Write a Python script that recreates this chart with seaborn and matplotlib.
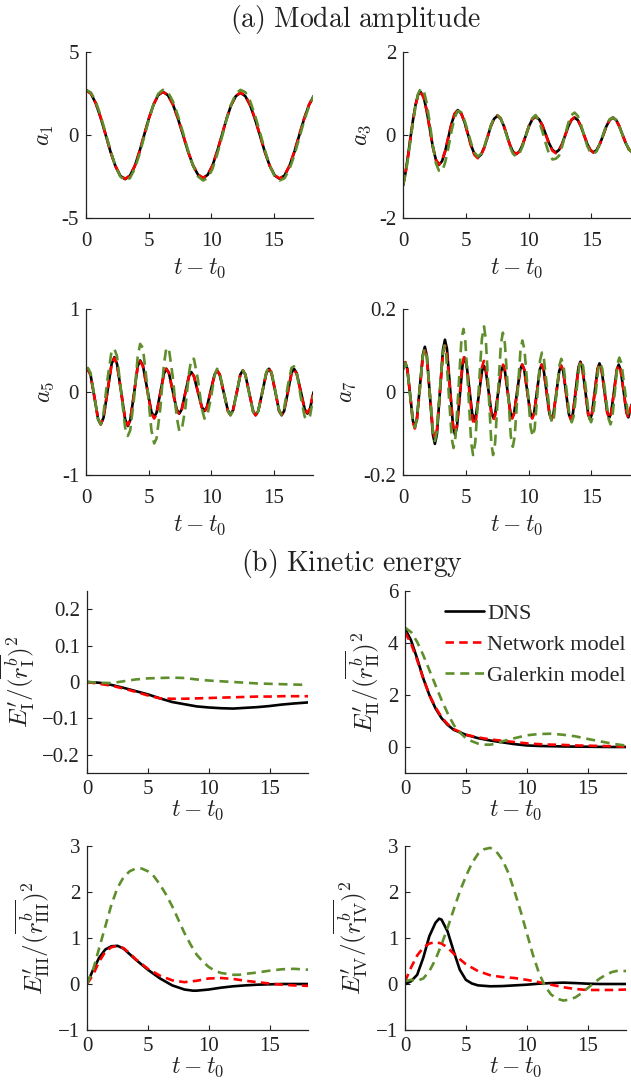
import matplotlib
matplotlib.use("Agg")
import matplotlib.pyplot as plt
import seaborn as sns
from matplotlib.lines import Line2D

sns.set_theme(style="ticks")
plt.rcParams["font.family"] = ["Liberation Serif", "DejaVu Serif"]
plt.rcParams["mathtext.fontset"] = "cm"

# ---------------- data: modal amplitudes ----------------
t_a1 = [0, 0.39, 0.78, 1.17, 1.57, 1.96, 2.35, 2.74, 3.13, 3.51, 3.89, 4.26, 4.64, 5.02, 5.4,
        5.77, 6.15, 6.55, 6.95, 7.35, 7.76, 8.16, 8.56, 8.96, 9.36, 9.73, 10.11, 10.48, 10.86,
        11.23, 11.6, 11.98, 12.35, 12.74, 13.13, 13.52, 13.92, 14.31, 14.7, 15.09, 15.48, 15.87,
        16.26, 16.65, 17.04, 17.43, 17.82, 18.2]
dns_a1 = [2.7, 2.5, 1.91, 1.05, 0.02, -1.01, -1.87, -2.46, -2.66, -2.46, -1.89, -1.04, -0.03,
          0.98, 1.83, 2.4, 2.6, 2.4, 1.84, 1.0, 0.0, -1.0, -1.84, -2.4, -2.6, -2.4, -1.85, -1.01,
          -0.03, 0.95, 1.79, 2.34, 2.54, 2.34, 1.78, 0.94, -0.05, -1.04, -1.88, -2.44, -2.64,
          -2.44, -1.88, -1.04, -0.05, 0.95, 1.79, 2.35]
net_a1 = [2.7, 2.5, 1.92, 1.06, 0.03, -1.0, -1.86, -2.45, -2.64, -2.44, -1.88, -1.03, -0.02,
          0.98, 1.83, 2.4, 2.6, 2.41, 1.85, 1.01, 0.01, -0.99, -1.82, -2.38, -2.58, -2.39, -1.84,
          -1.0, -0.02, 0.96, 1.8, 2.35, 2.56, 2.36, 1.8, 0.96, -0.04, -1.03, -1.87, -2.43, -2.62,
          -2.42, -1.86, -1.02, -0.03, 0.96, 1.8, 2.37]
gal_a1 = [2.72, 2.56, 2.02, 1.16, 0.12, -0.94, -1.86, -2.5, -2.74, -2.6, -2.05, -1.19, -0.15,
          0.91, 1.83, 2.48, 2.72, 2.58, 2.03, 1.17, 0.13, -0.93, -1.85, -2.5, -2.74, -2.6, -2.05,
          -1.19, -0.15, 0.91, 1.83, 2.48, 2.72, 2.58, 2.03, 1.17, 0.13, -0.93, -1.85, -2.5, -2.74,
          -2.61, -2.07, -1.24, -0.22, 0.82, 1.71, 2.35]

t_a3 = [0, 0.2, 0.4, 0.6, 0.8, 1.0, 1.2, 1.39, 1.64, 1.88, 2.13, 2.37, 2.62, 2.86, 3.11, 3.36,
        3.61, 3.86, 4.11, 4.36, 4.63, 4.89, 5.16, 5.43, 5.69, 5.96, 6.22, 6.48, 6.74, 6.99, 7.25,
        7.51, 7.76, 8.01, 8.26, 8.5, 8.75, 9.0, 9.26, 9.52, 9.78, 10.04, 10.3, 10.56, 10.83, 11.1,
        11.37, 11.63, 11.9, 12.17, 12.42, 12.67, 12.92, 13.16, 13.41, 13.66, 13.91, 14.16, 14.41,
        14.66, 14.91, 15.16, 15.42, 15.68, 15.94, 16.19, 16.45, 16.71, 16.97, 17.22, 17.48,
        17.74, 17.99, 18.2]
dns_a3 = [-1.22, -0.91, -0.5, -0.05, 0.37, 0.73, 0.97, 1.04, 0.92, 0.6, 0.16, -0.28, -0.6, -0.72,
          -0.63, -0.39, -0.06, 0.27, 0.51, 0.6, 0.52, 0.32, 0.03, -0.26, -0.46, -0.54, -0.47,
          -0.29, -0.04, 0.21, 0.39, 0.46, 0.4, 0.23, 0.0, -0.23, -0.4, -0.46, -0.4, -0.24, -0.01,
          0.22, 0.38, 0.44, 0.38, 0.23, 0.01, -0.2, -0.36, -0.42, -0.36, -0.21, 0.0, 0.21, 0.36,
          0.42, 0.36, 0.21, 0.0, -0.21, -0.36, -0.42, -0.36, -0.21, 0.0, 0.21, 0.36, 0.42, 0.36,
          0.21, 0.0, -0.2, -0.35, -0.4]
net_a3 = [-1.22, -0.92, -0.52, -0.07, 0.35, 0.71, 0.96, 1.03, 0.91, 0.59, 0.15, -0.28, -0.59,
          -0.71, -0.62, -0.38, -0.05, 0.27, 0.51, 0.6, 0.53, 0.32, 0.02, -0.28, -0.48, -0.56,
          -0.48, -0.3, -0.04, 0.21, 0.4, 0.47, 0.41, 0.24, 0.0, -0.23, -0.4, -0.46, -0.4, -0.23,
          0.0, 0.23, 0.39, 0.45, 0.39, 0.23, 0.0, -0.22, -0.38, -0.44, -0.38, -0.22, 0.0, 0.22,
          0.37, 0.43, 0.37, 0.21, 0.0, -0.21, -0.36, -0.42, -0.36, -0.21, 0.0, 0.21, 0.36, 0.42,
          0.36, 0.21, 0.0, -0.2, -0.35, -0.4]
gal_a3 = [-1.22, -0.94, -0.56, -0.12, 0.31, 0.7, 0.99, 1.11, 1.09, 0.78, 0.29, -0.24, -0.68,
          -0.86, -0.88, -0.66, -0.31, 0.09, 0.42, 0.58, 0.55, 0.36, 0.09, -0.2, -0.42, -0.52,
          -0.45, -0.27, -0.02, 0.23, 0.41, 0.48, 0.41, 0.23, -0.02, -0.27, -0.45, -0.52, -0.45,
          -0.27, -0.02, 0.23, 0.41, 0.48, 0.33, 0.08, -0.21, -0.46, -0.59, -0.57, -0.5, -0.27,
          0.02, 0.29, 0.48, 0.54, 0.46, 0.26, -0.01, -0.26, -0.42, -0.46, -0.39, -0.2, 0.02,
          0.24, 0.38, 0.42, 0.36, 0.21, 0.0, -0.2, -0.35, -0.41]

t_a5 = [0, 0.15, 0.36, 0.67, 0.97, 1.18, 1.4, 1.73, 2.05, 2.27, 2.48, 2.81, 3.13, 3.34, 3.54,
        3.84, 4.13, 4.33, 4.55, 4.89, 5.23, 5.45, 5.64, 5.94, 6.23, 6.42, 6.63, 6.94, 7.25, 7.46,
        7.65, 7.94, 8.23, 8.42, 8.63, 8.95, 9.26, 9.47, 9.67, 9.98, 10.28, 10.48, 10.69, 11.02,
        11.34, 11.55, 11.75, 12.05, 12.34, 12.54, 12.74, 13.05, 13.36, 13.56, 13.77, 14.1, 14.42,
        14.63, 14.83, 15.14, 15.44, 15.64, 15.84, 16.14, 16.43, 16.63, 16.84, 17.17, 17.49, 17.7,
        17.9, 18.2]
dns_a5 = [0.26, 0.27, 0.21, -0.06, -0.33, -0.39, -0.31, 0.02, 0.34, 0.42, 0.34, 0.0, -0.33,
          -0.41, -0.34, -0.02, 0.31, 0.38, 0.32, 0.04, -0.24, -0.3, -0.25, -0.01, 0.22, 0.28,
          0.23, 0.01, -0.21, -0.26, -0.21, -0.01, 0.19, 0.24, 0.19, 0.0, -0.18, -0.23, -0.18,
          0.02, 0.21, 0.26, 0.21, -0.01, -0.22, -0.27, -0.22, -0.01, 0.21, 0.26, 0.21, -0.01,
          -0.23, -0.28, -0.23, 0.0, 0.23, 0.28, 0.23, 0.0, -0.23, -0.28, -0.23, 0.0, 0.23, 0.28,
          0.23, 0.01, -0.21, -0.26, -0.21, 0.0]
net_a5 = [0.26, 0.27, 0.21, -0.06, -0.33, -0.39, -0.31, 0.02, 0.34, 0.41, 0.33, 0.0, -0.33,
          -0.4, -0.33, -0.02, 0.3, 0.37, 0.31, 0.03, -0.26, -0.32, -0.27, -0.02, 0.22, 0.28,
          0.23, 0.0, -0.22, -0.27, -0.22, -0.01, 0.19, 0.24, 0.19, 0.0, -0.19, -0.24, -0.19,
          0.01, 0.21, 0.26, 0.21, -0.01, -0.23, -0.28, -0.23, -0.01, 0.21, 0.26, 0.21, -0.01,
          -0.23, -0.28, -0.23, 0.0, 0.23, 0.28, 0.23, 0.0, -0.22, -0.27, -0.22, 0.0, 0.22, 0.27,
          0.22, 0.0, -0.21, -0.25, -0.2, 0.01]
gal_a5 = [0.28, 0.29, 0.23, -0.05, -0.33, -0.39, -0.26, 0.17, 0.5, 0.52, 0.43, 0.0, -0.43,
          -0.53, -0.46, -0.08, 0.42, 0.58, 0.53, 0.08, -0.46, -0.62, -0.56, -0.2, 0.33, 0.53,
          0.52, 0.18, -0.3, -0.47, -0.46, -0.2, 0.22, 0.4, 0.4, 0.15, -0.2, -0.32, -0.3, -0.08,
          0.2, 0.28, 0.23, 0.0, -0.23, -0.28, -0.23, -0.01, 0.21, 0.26, 0.21, -0.02, -0.24,
          -0.29, -0.23, 0.0, 0.24, 0.3, 0.24, 0.01, -0.22, -0.28, -0.2, 0.08, 0.29, 0.31, 0.24,
          -0.06, -0.3, -0.33, -0.3, -0.04]

t_a7 = [0, 0.19, 0.34, 0.57, 0.79, 0.94, 1.1, 1.34, 1.58, 1.74, 1.9, 2.14, 2.38, 2.54, 2.7,
        2.94, 3.18, 3.34, 3.5, 3.74, 3.98, 4.14, 4.29, 4.52, 4.74, 4.89, 5.05, 5.28, 5.51, 5.67,
        5.82, 6.06, 6.29, 6.44, 6.59, 6.82, 7.04, 7.19, 7.35, 7.58, 7.81, 7.97, 8.11, 8.33, 8.55,
        8.69, 8.85, 9.09, 9.33, 9.49, 9.65, 9.89, 10.13, 10.29, 10.44, 10.67, 10.89, 11.04, 11.2,
        11.43, 11.66, 11.82, 11.97, 12.21, 12.44, 12.59, 12.75, 12.98, 13.21, 13.37, 13.52,
        13.75, 13.97, 14.12, 14.27, 14.51, 14.74, 14.89, 15.04, 15.27, 15.49, 15.64, 15.8, 16.03,
        16.26, 16.42, 16.57, 16.8, 17.02, 17.17, 17.32, 17.56, 17.79, 17.94, 18.2]
dns_a7 = [0.055, 0.071, 0.056, -0.007, -0.07, -0.085, -0.066, 0.012, 0.09, 0.109, 0.087,
          -0.008, -0.103, -0.125, -0.102, 0.0, 0.102, 0.126, 0.104, 0.012, -0.081, -0.103,
          -0.085, -0.01, 0.065, 0.083, 0.069, 0.008, -0.052, -0.066, -0.054, -0.002, 0.051,
          0.063, 0.051, 0.0, -0.05, -0.062, -0.05, 0.0, 0.051, 0.063, 0.051, 0.0, -0.05, -0.062,
          -0.05, 0.002, 0.054, 0.066, 0.054, 0.002, -0.05, -0.062, -0.05, 0.002, 0.054, 0.066,
          0.053, 0.0, -0.053, -0.066, -0.054, -0.002, 0.051, 0.063, 0.051, -0.002, -0.054,
          -0.066, -0.053, 0.004, 0.06, 0.073, 0.06, 0.004, -0.053, -0.066, -0.053, 0.002, 0.056,
          0.069, 0.056, 0.004, -0.049, -0.062, -0.05, 0.002, 0.054, 0.066, 0.054, 0.003, -0.049,
          -0.061, -0.03]
net_a7 = [0.055, 0.072, 0.057, -0.008, -0.073, -0.088, -0.07, 0.006, 0.082, 0.1, 0.08, -0.006,
          -0.092, -0.112, -0.091, 0.0, 0.091, 0.112, 0.092, 0.006, -0.08, -0.1, -0.082, -0.006,
          0.07, 0.088, 0.072, 0.004, -0.064, -0.08, -0.065, -0.002, 0.06, 0.075, 0.061, 0.004,
          -0.054, -0.068, -0.055, -0.001, 0.053, 0.066, 0.054, 0.001, -0.052, -0.064, -0.052,
          0.001, 0.054, 0.066, 0.054, 0.001, -0.052, -0.064, -0.052, 0.001, 0.054, 0.066, 0.053,
          0.0, -0.053, -0.066, -0.054, -0.001, 0.052, 0.064, 0.052, -0.001, -0.054, -0.066,
          -0.053, 0.002, 0.057, 0.07, 0.057, 0.002, -0.053, -0.066, -0.053, 0.001, 0.055, 0.068,
          0.055, 0.003, -0.05, -0.063, -0.051, 0.001, 0.053, 0.065, 0.053, 0.002, -0.05, -0.062,
          -0.03]
tg_a7 = [0, 0.19, 0.34, 0.57, 0.79, 0.94, 1.1, 1.34, 1.58, 1.74, 1.9, 2.14, 2.38, 2.54, 2.69,
         2.92, 3.15, 3.3, 3.44, 3.66, 3.88, 4.02, 4.18, 4.42, 4.65, 4.81, 4.96, 5.2, 5.43, 5.58,
         5.75, 6.02, 6.28, 6.45, 6.59, 6.81, 7.03, 7.17, 7.33, 7.56, 7.79, 7.95, 8.11, 8.35, 8.58,
         8.74, 8.89, 9.12, 9.35, 9.5, 9.67, 9.92, 10.16, 10.33, 10.48, 10.7, 10.91, 11.06, 11.22,
         11.47, 11.72, 11.88, 12.02, 12.24, 12.46, 12.6, 12.77, 13.02, 13.26, 13.43, 13.58,
         13.81, 14.03, 14.18, 14.34, 14.58, 14.81, 14.97, 15.12, 15.34, 15.55, 15.7, 15.86,
         16.11, 16.36, 16.52, 16.66, 16.87, 17.08, 17.22, 17.39, 17.64, 17.89, 18.06, 18.2]
gal_a7 = [0.055, 0.07, 0.055, -0.008, -0.07, -0.085, -0.067, 0.01, 0.087, 0.105, 0.084, -0.007,
          -0.097, -0.118, -0.096, -0.003, 0.09, 0.112, 0.088, -0.012, -0.111, -0.135, -0.108,
          0.008, 0.125, 0.152, 0.123, 0.0, -0.123, -0.152, -0.122, 0.003, 0.128, 0.158, 0.128,
          0.003, -0.122, -0.152, -0.124, -0.004, 0.115, 0.143, 0.117, 0.006, -0.106, -0.132,
          -0.108, -0.004, 0.1, 0.124, 0.102, 0.008, -0.085, -0.107, -0.088, -0.006, 0.076, 0.095,
          0.079, 0.01, -0.059, -0.075, -0.06, 0.002, 0.065, 0.08, 0.065, 0.004, -0.058, -0.073,
          -0.059, 0.002, 0.062, 0.076, 0.062, 0.002, -0.059, -0.073, -0.059, -0.002, 0.056, 0.07,
          0.056, -0.004, -0.064, -0.078, -0.063, 0.002, 0.068, 0.083, 0.069, 0.01, -0.049,
          -0.063, -0.058]

# ---------------- data: kinetic energies ----------------
t_e1 = [0, 1, 2, 3, 4, 5, 6, 7, 8, 9, 10, 11, 12, 13, 14, 15, 16, 17, 18.2]
dns_e1 = [0, -0.002, -0.008, -0.016, -0.025, -0.034, -0.045, -0.055, -0.061, -0.067, -0.07,
          -0.072, -0.073, -0.071, -0.069, -0.066, -0.062, -0.059, -0.056]
net_e1 = [0, -0.005, -0.01, -0.018, -0.027, -0.037, -0.045, -0.046, -0.046, -0.045, -0.044,
          -0.043, -0.042, -0.041, -0.04, -0.04, -0.039, -0.039, -0.039]
gal_e1 = [0, -0.002, -0.003, 0.002, 0.007, 0.01, 0.011, 0.012, 0.011, 0.007, 0.004, 0.002, 0.0,
          -0.002, -0.004, -0.005, -0.006, -0.007, -0.008]

t_e2 = [0, 0.5, 1, 1.5, 2, 2.5, 3, 3.5, 4, 5, 6, 7, 8, 9, 10, 11, 12, 13, 14, 15, 16, 17, 18.2]
dns_e2 = [4.55, 4.1, 3.4, 2.64, 2.0, 1.49, 1.11, 0.85, 0.66, 0.47, 0.34, 0.25, 0.18, 0.11, 0.06,
          0.04, 0.03, 0.02, 0.015, 0.01, 0.005, 0.0, 0.0]
net_e2 = [4.42, 3.97, 3.34, 2.64, 2.0, 1.53, 1.15, 0.88, 0.69, 0.47, 0.37, 0.29, 0.24, 0.19, 0.14,
          0.11, 0.09, 0.08, 0.06, 0.05, 0.04, 0.03, 0.01]
tg_e2 = [0, 0.5, 1, 1.5, 2, 2.5, 3, 3.5, 4, 4.5, 5, 5.5, 6, 6.5, 7, 7.5, 8, 9, 10, 11, 12, 13, 14,
         15, 16, 17, 18.2]
gal_e2 = [4.59, 4.42, 4.04, 3.53, 2.96, 2.38, 1.81, 1.3, 0.85, 0.56, 0.34, 0.22, 0.13, 0.09, 0.09,
          0.13, 0.22, 0.34, 0.45, 0.5, 0.51, 0.47, 0.41, 0.31, 0.22, 0.13, 0.05]

t_e3 = [0, 0.5, 1, 1.5, 2, 2.5, 3, 3.5, 4, 5, 6, 7, 8, 8.7, 9, 10, 11, 12, 13, 14, 15, 16, 17, 18.2]
dns_e3 = [0, 0.31, 0.57, 0.75, 0.82, 0.83, 0.77, 0.65, 0.53, 0.31, 0.12, -0.03, -0.12, -0.145,
          -0.145, -0.12, -0.08, -0.05, -0.03, -0.015, -0.007, 0.0, 0.0, 0.0]
tn_e3 = [0, 0.5, 1, 1.5, 2, 2.5, 3, 3.5, 4, 5, 6, 7, 8, 9, 10, 11, 12, 13, 14, 15, 16, 17, 18.2]
net_e3 = [0, 0.2, 0.49, 0.7, 0.8, 0.83, 0.78, 0.67, 0.54, 0.33, 0.18, 0.08, 0.04, 0.07, 0.12, 0.13,
          0.11, 0.07, 0.04, 0.01, -0.015, -0.03, -0.04]
tg_e3 = [0, 0.5, 1, 1.5, 2, 2.5, 3, 3.5, 4, 4.5, 5, 5.5, 6, 6.5, 7, 7.5, 8, 8.5, 9, 9.5, 10, 10.5,
         11, 12, 12.5, 13, 14, 15, 16, 17, 18.2]
gal_e3 = [0, 0.31, 0.78, 1.25, 1.72, 2.09, 2.32, 2.45, 2.51, 2.51, 2.45, 2.34, 2.16, 1.94, 1.69,
          1.4, 1.11, 0.86, 0.64, 0.49, 0.37, 0.29, 0.24, 0.2, 0.2, 0.22, 0.25, 0.29, 0.32, 0.33, 0.31]

t_e4 = [0, 0.5, 1, 1.5, 2, 2.5, 2.8, 3, 3.5, 4, 4.5, 5, 5.5, 6, 7, 8, 9, 10, 11, 12, 13, 14, 15,
        16, 17, 18.2]
dns_e4 = [0, 0.06, 0.2, 0.57, 1.04, 1.33, 1.42, 1.4, 1.14, 0.71, 0.31, 0.09, 0.01, -0.03, -0.05,
          -0.045, -0.03, -0.015, 0.007, 0.02, 0.03, 0.02, 0.007, 0.0, 0.0, 0.0]
tn_e4 = [0, 0.5, 1, 1.5, 2, 2.5, 3, 3.5, 4, 4.5, 5, 6, 7, 8, 9, 10, 11, 12, 13, 14, 15, 16, 17, 18.2]
net_e4 = [0.05, 0.36, 0.62, 0.79, 0.88, 0.91, 0.88, 0.79, 0.66, 0.54, 0.43, 0.28, 0.19, 0.15, 0.13,
          0.09, 0.04, -0.015, -0.07, -0.11, -0.13, -0.13, -0.13, -0.12]
tg_e4 = [0, 0.5, 1, 1.5, 2, 2.5, 3, 3.5, 4, 4.5, 5, 5.5, 6, 6.5, 7, 7.5, 8, 8.5, 9, 9.5, 10, 10.5,
         11, 11.5, 12, 12.5, 13, 13.5, 14, 14.5, 15, 15.5, 16, 16.5, 17, 17.5, 18.2]
gal_e4 = [0.06, 0.09, 0.07, 0.12, 0.28, 0.53, 0.86, 1.22, 1.62, 2.01, 2.34, 2.63, 2.83, 2.93, 2.96,
          2.88, 2.7, 2.41, 2.01, 1.58, 1.11, 0.64, 0.24, -0.05, -0.23, -0.32, -0.36, -0.34, -0.29,
          -0.2, -0.09, 0.02, 0.12, 0.2, 0.26, 0.29, 0.28]

series_names = ["DNS", "Network model", "Galerkin model"]
x_ticks = [0, 5, 10, 15]
x_tick_labels = ["0", "5", "10", "15"]

C_DNS = "black"
C_NET = "#ff0000"
C_GAL = "#5f8f2c"
TXT = "#222222"

W, H = 631, 1081
fig = plt.figure(figsize=(W / 100, H / 100), dpi=100)


def rect(l, t, w, h):
    return [l / W, 1 - (t + h) / H, w / W, h / H]


def style(ax, ylim, yticks, ylabels, ylabel, xpad, xlabelpad, ylabelsize):
    ax.set_xlim(0, 18.15)
    ax.set_ylim(*ylim)
    ax.set_xticks(x_ticks, x_tick_labels)
    ax.set_yticks(yticks, ylabels)
    for s in ["top", "right"]:
        ax.spines[s].set_visible(False)
    for s in ["left", "bottom"]:
        ax.spines[s].set_linewidth(0.9)
        ax.spines[s].set_color(TXT)
    ax.tick_params(direction="in", length=3.5, width=0.8, labelsize=15, pad=5, colors=TXT)
    ax.tick_params(axis="x", pad=xpad)
    ax.set_xlabel(r"$t - t_0$", fontsize=17, labelpad=xlabelpad, color=TXT)
    ax.set_ylabel(ylabel, fontsize=ylabelsize, color=TXT)
    ax.set_facecolor("white")


def draw(ax, tn, dns, tnet, net, tgal, gal, gal_dash):
    sns.lineplot(x=tn, y=dns, ax=ax, color=C_DNS, linewidth=1.9, estimator=None, sort=False)
    sns.lineplot(x=tnet, y=net, ax=ax, color=C_NET, linewidth=1.9, estimator=None, sort=False,
                 linestyle=(0, (3.2, 2.0)))
    sns.lineplot(x=tgal, y=gal, ax=ax, color=C_GAL, linewidth=1.9, estimator=None, sort=False,
                 linestyle=(0, gal_dash))


# rows 1-2: modal amplitudes
ax1 = fig.add_axes(rect(86, 52, 227, 166))
draw(ax1, t_a1, dns_a1, t_a1, net_a1, t_a1, gal_a1, (4.2, 2.4))
style(ax1, (-5, 5), [-5, 0, 5], ["-5", "0", "5"], r"$a_1$", 10, 4, 17)

ax2 = fig.add_axes(rect(403, 52, 228, 166))
draw(ax2, t_a3, dns_a3, t_a3, net_a3, t_a3, gal_a3, (4.2, 2.4))
style(ax2, (-2, 2), [-2, 0, 2], ["-2", "0", "2"], r"$a_3$", 10, 4, 17)

ax3 = fig.add_axes(rect(86, 309, 227, 166))
draw(ax3, t_a5, dns_a5, t_a5, net_a5, t_a5, gal_a5, (4.2, 2.4))
style(ax3, (-1, 1), [-1, 0, 1], ["-1", "0", "1"], r"$a_5$", 10, 4, 17)

ax4 = fig.add_axes(rect(403, 309, 228, 166))
draw(ax4, t_a7, dns_a7, t_a7, net_a7, tg_a7, gal_a7, (4.2, 2.4))
style(ax4, (-0.2, 0.2), [-0.2, 0, 0.2], ["-0.2", "0", "0.2"], r"$a_7$", 10, 4, 17)

# rows 3-4: kinetic energies
ax5 = fig.add_axes(rect(87, 591, 221, 182))
draw(ax5, t_e1, dns_e1, t_e1, net_e1, t_e1, gal_e1, (3.4, 2.2))
style(ax5, (-0.25, 0.25), [-0.2, -0.1, 0, 0.1, 0.2],
      ["\u22120.2", "\u22120.1", "0", "0.1", "0.2"],
      r"$E^{\prime}_{\mathrm{I}}/(\overline{r^{b}_{\mathrm{I}}})^2$", 5, 0, 18)

ax6 = fig.add_axes(rect(405, 591, 221, 182))
draw(ax6, t_e2, dns_e2, t_e2, net_e2, tg_e2, gal_e2, (3.4, 2.2))
style(ax6, (-1, 6), [0, 2, 4, 6], ["0", "2", "4", "6"],
      r"$E^{\prime}_{\mathrm{II}}/(\overline{r^{b}_{\mathrm{II}}})^2$", 5, 0, 18)

ax7 = fig.add_axes(rect(87, 846, 221, 184))
draw(ax7, t_e3, dns_e3, tn_e3, net_e3, tg_e3, gal_e3, (3.4, 2.2))
style(ax7, (-1, 3), [-1, 0, 1, 2, 3], ["\u22121", "0", "1", "2", "3"],
      r"$E^{\prime}_{\mathrm{III}}/(\overline{r^{b}_{\mathrm{III}}})^2$", 5, 0, 18)

ax8 = fig.add_axes(rect(405, 846, 221, 184))
draw(ax8, t_e4, dns_e4, tn_e4, net_e4, tg_e4, gal_e4, (3.4, 2.2))
style(ax8, (-1, 3), [-1, 0, 1, 2, 3], ["\u22121", "0", "1", "2", "3"],
      r"$E^{\prime}_{\mathrm{IV}}/(\overline{r^{b}_{\mathrm{IV}}})^2$", 5, 0, 18)

handles = [
    Line2D([], [], color=C_DNS, linewidth=1.9),
    Line2D([], [], color=C_NET, linewidth=1.9, linestyle=(0, (3.2, 2.0))),
    Line2D([], [], color=C_GAL, linewidth=1.9, linestyle=(0, (3.4, 2.2))),
]
ax6.legend(handles, series_names, loc="upper right", bbox_to_anchor=(1.0 + 12 / 221, 1.0),
           frameon=False, fontsize=16, handlelength=1.75, handletextpad=0.15,
           borderaxespad=0.0, borderpad=0.56, labelspacing=0.47)

fig.text(355 / W, 1 - 20 / H, r"$\mathrm{(a)\ Modal\ amplitude}$", ha="center", va="center",
         fontsize=20, color=TXT)
fig.text(352 / W, 1 - 563 / H, r"$\mathrm{(b)\ Kinetic\ energy}$", ha="center", va="center",
         fontsize=20, color=TXT)

fig.savefig("out.png", dpi=100, facecolor="white")
